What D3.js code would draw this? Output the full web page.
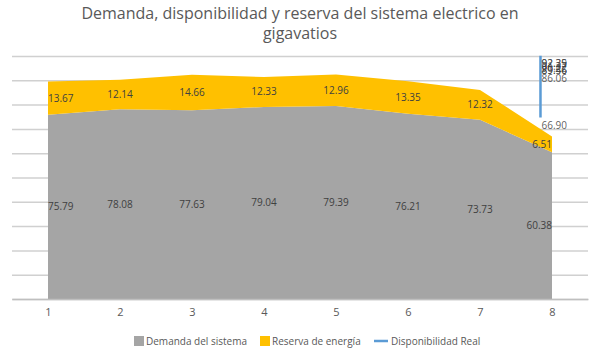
<!DOCTYPE html>
<html>
<head>
<meta charset="utf-8">
<script src="https://cdnjs.cloudflare.com/ajax/libs/d3/7.8.5/d3.min.js"></script>
<style>
  body { margin: 0; background: #fff; }
  text { font-family: "Open Sans", "Liberation Sans", sans-serif; }
</style>
</head>
<body>
<div id="chart"></div>
<script>
// data
var categories = [1, 2, 3, 4, 5, 6, 7, 8];
var demanda = [75.79, 78.08, 77.63, 79.04, 79.39, 76.21, 73.73, 60.38];
var reserva = [13.67, 12.14, 14.66, 12.33, 12.96, 13.35, 12.32, 6.51];
var disponibilidad = [89.46, 90.22, 92.29, 91.37, 92.35, 89.56, 86.06, 66.90];
// the line series sits squeezed at one spot near the last category
var dispPos = 7.84;
var yTicks = [0, 10, 20, 30, 40, 50, 60, 70, 80, 90, 100];

var W = 600, H = 359;
var margin = {top: 56, right: 12, bottom: 60, left: 12};
var width = W - margin.left - margin.right;
var height = H - margin.top - margin.bottom;

var svg = d3.select("#chart").append("svg")
    .attr("width", W)
    .attr("height", H);

// title
svg.append("text")
    .attr("x", W / 2).attr("y", 19)
    .attr("text-anchor", "middle")
    .attr("fill", "#595959")
    .style("font-size", "16px")
    .text("Demanda, disponibilidad y reserva del sistema electrico en");
svg.append("text")
    .attr("x", W / 2).attr("y", 39)
    .attr("text-anchor", "middle")
    .attr("fill", "#595959")
    .style("font-size", "16px")
    .text("gigavatios");

var g = svg.append("g")
    .attr("transform", "translate(" + margin.left + "," + margin.top + ")");

var xScale = d3.scaleLinear()
    .domain([0.5, categories.length + 0.5])
    .range([0, width]);

var yScale = d3.scaleLinear().domain([0, 100]).range([height, 0]);
// secondary scale used by the line series
var y2Scale = d3.scaleLinear().domain([-7.8, 92.2]).range([height, 0]);

// grid lines
g.append("g")
    .attr("class", "grid")
    .call(d3.axisLeft(yScale)
        .tickValues(yTicks)
        .tickSize(-width)
        .tickFormat(""))
    .call(function(s) {
        s.select(".domain").remove();
        s.selectAll("line").attr("stroke", "#d0d0d0").attr("stroke-width", 1.5);
    });

// stacked areas
var rows = categories.map(function(c, i) {
    return {cat: c, dem: demanda[i], res: reserva[i]};
});
var stack = d3.stack().keys(["dem", "res"]);
var series = stack(rows);
var colors = ["#a5a5a5", "#ffc000"];

var area = d3.area()
    .x(function(d) { return xScale(d.data.cat); })
    .y0(function(d) { return yScale(d[0]); })
    .y1(function(d) { return yScale(d[1]); });

g.selectAll(".area")
    .data(series)
    .enter()
    .append("path")
    .attr("class", "area")
    .attr("fill", function(d, i) { return colors[i]; })
    .attr("d", area);

// x axis
var xAxis = g.append("g")
    .attr("transform", "translate(0," + height + ")")
    .call(d3.axisBottom(xScale)
        .tickValues(categories)
        .tickSize(0)
        .tickPadding(9)
        .tickFormat(d3.format("d")));
xAxis.select(".domain").attr("stroke", "#bfbfbf").attr("stroke-width", 1.5);
xAxis.selectAll("text")
    .attr("fill", "#595959")
    .style("font-size", "11px")
    .style("font-family", "'Open Sans', sans-serif");

// area labels
function anchorFor(i) {
    if (i == 0) return "start";
    if (i == categories.length - 1) return "end";
    return "middle";
}
series.forEach(function(s) {
    g.selectAll(null)
        .data(s)
        .enter()
        .append("text")
        .attr("x", function(d) { return xScale(d.data.cat); })
        .attr("y", function(d) { return yScale((d[0] + d[1]) / 2); })
        .attr("dy", "0.35em")
        .attr("text-anchor", function(d, i) { return anchorFor(i); })
        .attr("fill", "#404040")
        .style("font-size", "10px")
        .text(function(d) { return (d[1] - d[0]).toFixed(2); });
});

// Disponibilidad Real line
var line = d3.line()
    .x(function() { return xScale(dispPos); })
    .y(function(d) { return y2Scale(d); });

g.append("path")
    .datum(disponibilidad)
    .attr("fill", "none")
    .attr("stroke", "#5b9bd5")
    .attr("stroke-width", 2.5)
    .attr("d", line);

g.selectAll(".dispLabel")
    .data(disponibilidad)
    .enter()
    .append("text")
    .attr("class", "dispLabel")
    .attr("x", xScale(dispPos) + 1)
    .attr("y", function(d) { return y2Scale(d) + 8; })
    .attr("dy", "0.35em")
    .attr("fill", "#404040")
    .attr("fill-opacity", 0.85)
    .style("font-size", "10px")
    .text(function(d) { return d.toFixed(2); });

// legend
var legendItems = [
    {label: "Demanda del sistema", color: "#a5a5a5", type: "box"},
    {label: "Reserva de energía", color: "#ffc000", type: "box"},
    {label: "Disponibilidad Real", color: "#5b9bd5", type: "line"}
];
var legendX = [134, 260, 374];
var legend = svg.append("g").attr("transform", "translate(0,341)");
legendItems.forEach(function(it, i) {
    var lg = legend.append("g").attr("transform", "translate(" + legendX[i] + ",0)");
    if (it.type == "box") {
        lg.append("rect").attr("x", 0).attr("y", -5).attr("width", 10).attr("height", 10)
            .attr("fill", it.color);
        lg.append("text").attr("x", 12).attr("y", 0).attr("dy", "0.35em")
            .attr("fill", "#595959").style("font-size", "10px").text(it.label);
    } else {
        lg.append("line").attr("x1", 0).attr("x2", 14).attr("y1", 0).attr("y2", 0)
            .attr("stroke", it.color).attr("stroke-width", 2.5);
        lg.append("text").attr("x", 17).attr("y", 0).attr("dy", "0.35em")
            .attr("fill", "#595959").style("font-size", "10px").text(it.label);
    }
});
</script>
</body>
</html>
